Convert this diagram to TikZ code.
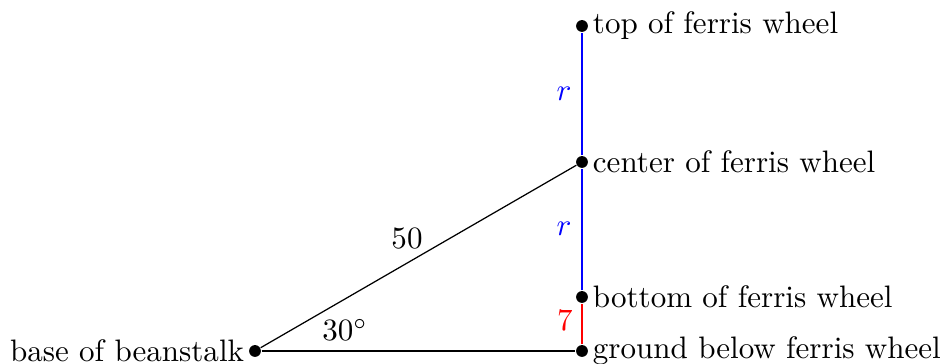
\documentclass[tikz,border=0pt]{standalone}
\begin{document}
\begin{tikzpicture}[x=0.3222pt,y=-0.3222pt,
  dot/.style={circle,fill=black,inner sep=0pt,minimum size=3.8pt},
  lbl/.style={inner sep=0pt}]
\useasboundingbox (0,0) rectangle (945,364);
\node[dot] (base) at (255,351) {};
\node[dot] (ground) at (582,351) {};
\node[dot] (bottom) at (582,297) {};
\node[dot] (center) at (582,162) {};
\node[dot] (top) at (582,26) {};
\draw (base) -- (ground);
\draw (base) -- (center);
\draw[red] (ground) -- (bottom);
\draw[blue] (bottom) -- (center) -- (top);
\node[anchor=east] (tb) at (base.center) {base of beanstalk};
\node[anchor=west] (tg) at (ground.center) {ground below ferris wheel};
\node[anchor=west] (tbo) at (bottom.center) {bottom of ferris wheel};
\node[anchor=west] (tc) at (center.center) {center of ferris wheel};
\node[anchor=west] (tt) at (top.center) {top of ferris wheel};
\node[lbl] (l50) at (407,239) {$50$};
\node[lbl] (l30) at (345,330) {$30^\circ$};
\node[lbl,blue] (r1) at (564,94) {$r$};
\node[lbl,blue] (r2) at (564,229) {$r$};
\node[lbl,red] (l7) at (565,321) {$7$};
\end{tikzpicture}
\end{document}
